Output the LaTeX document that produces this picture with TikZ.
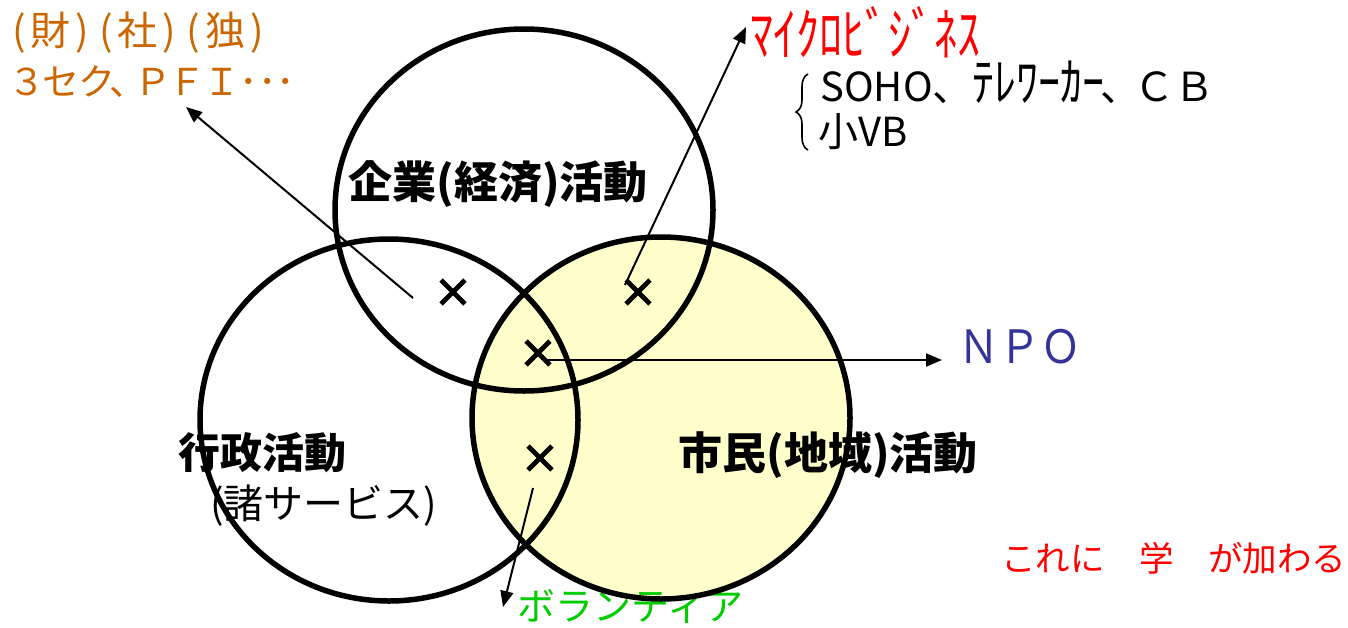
\documentclass[tikz,border=0pt]{standalone}
\usepackage{fontspec}
\newfontfamily\jp{Noto Sans CJK JP}
\newfontfamily\jpp[RawFeature=+palt]{Noto Sans CJK JP}
\usetikzlibrary{arrows.meta,shapes.misc,shapes.geometric,decorations.pathreplacing}
\definecolor{orangec}{RGB}{204,102,0}
\definecolor{redc}{RGB}{255,0,0}
\definecolor{bluec}{RGB}{51,51,153}
\definecolor{greenc}{RGB}{0,204,0}
\definecolor{yellowc}{RGB}{255,255,204}
\newcommand\jpsz[1]{\fontsize{#1}{#1}\selectfont}
\begin{document}
\begin{tikzpicture}[x=0.5pt,y=-0.5pt,
  circ/.style={ellipse,draw,line width=2.75pt,minimum width=189pt,minimum height=181pt,inner sep=0pt},
  crossmark/.style={cross out,draw,line width=2.4pt,minimum size=9.5pt,inner sep=0pt},
  txt/.style={anchor=west,inner sep=0pt,font=\jp},
  arr/.style={line width=1pt,-{Triangle[length=8pt,width=6.5pt]}}]
\fill[white] (0,0) rectangle (1348,627);
\useasboundingbox (0,0) rectangle (1348,627);
% yellow fill of the right circle
\fill[yellowc] (661,418) ellipse [x radius=189, y radius=181];
% texts
\node[txt,text=orangec] (t1) at (12,33) {\jpsz{20}(\kern2.5pt 財\kern2.5pt)\kern5pt(\kern2.5pt 社\kern2.5pt)\kern5pt(\kern2.5pt 独\kern2.5pt)};
\node[txt,text=orangec] (t2) at (12,82) {\jpp\jpsz{18.5}３\kern1pt セ\kern1pt ク、\kern5pt Ｐ\kern4pt Ｆ\kern4pt Ｉ\kern2pt ･･･};
\node[txt,text=redc] (t3) at (750,32) {\jpsz{23}\scalebox{1}[1.25]{ﾏｲｸﾛﾋﾞｼﾞﾈｽ}};
\node[txt] (t4) at (820,82) {\jpsz{20}SOHO、{\jpsz{22}\scalebox{1}[1.2]{ﾃﾚﾜｰｶｰ}}\kern-2pt 、\kern-3pt ＣＢ};
\node[txt] (t5) at (818,132) {\jpsz{20}小VB};
\node[txt] (l1) at (348,184) {\jpsz{22}\bfseries 企業(経済)活動};
\node[txt] (l2) at (178,453) {\jpsz{21}\bfseries 行政活動};
\node[txt] (l3) at (678,455) {\jpsz{22}\bfseries 市民(地域)活動};
\node[txt] (l4) at (210,506) {\jpsz{20}(諸サービス)};
\node[txt,text=bluec] (npo) at (958,347) {\jpsz{20.5}\scalebox{1}[1.12]{ＮＰＯ}};
\node[txt,text=redc] (t6) at (1001,558) {\jpsz{17.25}これに　学　が加わる};
\node[txt,text=greenc] (t7) at (517,606) {\jpsz{19}ボランティア};
% brace
\draw[line width=0.8pt,decorate,decoration={brace,amplitude=6pt}] (808,150) -- (808,74);
% circles
\node[circ] (cT) at (524,210) {};
\node[circ] (cL) at (389,420) {};
\node[circ] (cR) at (661,418) {};
% crosses
\node[crossmark] (x1) at (453,292) {};
\node[crossmark] (x2) at (638,292) {};
\node[crossmark] (x3) at (538,353) {};
\node[crossmark] (x4) at (540,458) {};
% arrows
\coordinate (a1s) at (413,298);
\coordinate (a1e) at (186,107);
\coordinate (a2s) at (625,285);
\coordinate (a2e) at (746,27);
\coordinate (a3s) at (545,360);
\coordinate (a3e) at (942,360);
\coordinate (a4s) at (533,488);
\coordinate (a4e) at (503,607);
\draw[arr] (a1s) -- (a1e);
\draw[arr] (a2s) -- (a2e);
\draw[arr] (a3s) -- (a3e);
\draw[arr] (a4s) -- (a4e);
\end{tikzpicture}
\end{document}
